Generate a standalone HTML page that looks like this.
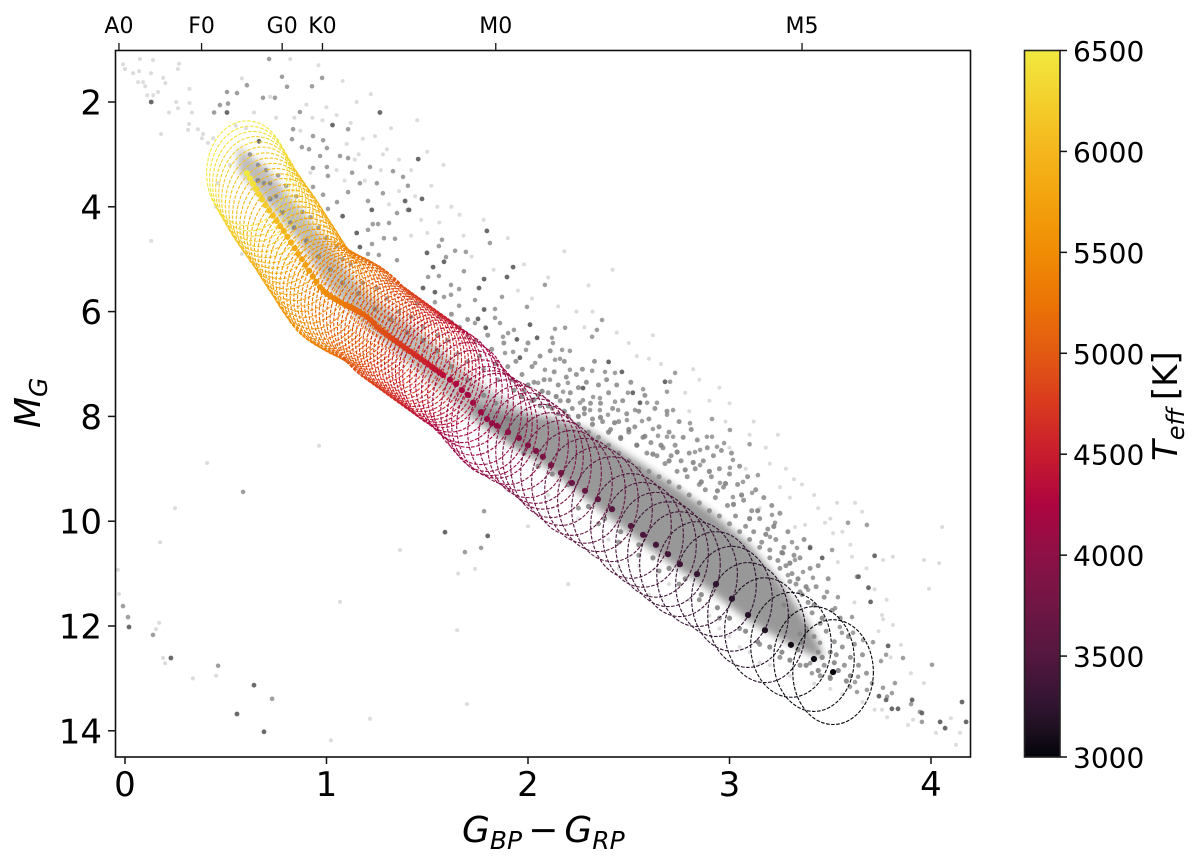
<!DOCTYPE html>
<html>
<head>
<meta charset="utf-8">
<title>Colour-magnitude diagram</title>
<style>
html,body{margin:0;padding:0;background:#fff}
svg{display:block}
text{font-family:"DejaVu Sans",sans-serif;fill:#000}
</style>
</head>
<body>
<svg id="chart" width="1200" height="861" viewBox="0 0 1200 861" xmlns="http://www.w3.org/2000/svg">
<defs>
<filter id="soft" x="-5%" y="-5%" width="110%" height="110%"><feGaussianBlur stdDeviation="4"/></filter>
<linearGradient id="cbar-gradient" x1="0" y1="1" x2="0" y2="0"></linearGradient>
<clipPath id="plot-clip"><rect x="115.5" y="50.5" width="855" height="706.5"/></clipPath>
</defs>
<g clip-path="url(#plot-clip)">
<g id="stars"></g>
<g id="ellipses"></g>
<g id="dots"></g>
</g>
<rect x="115.5" y="50.5" width="855" height="706.5" fill="none" stroke="#111" stroke-width="1.6"/>
<g id="axes"></g>
<g id="cbar"></g>
<text x="462" y="842" font-size="36" font-style="italic">G<tspan font-size="25" dy="7">BP</tspan><tspan dy="-7" font-style="normal" dx="6">−</tspan><tspan dx="6">G</tspan><tspan font-size="25" dy="7">RP</tspan></text>
<text transform="translate(40,428) rotate(-90)" font-size="36" font-style="italic">M<tspan font-size="25" dy="7">G</tspan></text>
<text transform="translate(1177,461) rotate(-90)" font-size="34"><tspan font-style="italic">T</tspan><tspan font-size="24" dy="7" font-style="italic">eff</tspan><tspan dy="-7" dx="8">[K]</tspan></text>
</svg>
<script>
// ---- axis tick values ----
const xTicks = [0, 1, 2, 3, 4];
const yTicks = [2, 4, 6, 8, 10, 12, 14];
const spectralLabels = ["A0", "F0", "G0", "K0", "M0", "M5"];
const spectralColours = [-0.03, 0.38, 0.78, 0.98, 1.84, 3.36];
const teffTicks = [3000, 3500, 4000, 4500, 5000, 5500, 6000, 6500];

// ---- colormap ----
const cmapTeff = [3000, 3125, 3250, 3500, 3750, 4000, 4250, 4500, 4750, 5000, 5250, 5500, 5750, 6000, 6250, 6500];
const cmapHex = ["#03030a", "#1c0f1e", "#2f1430", "#54173f", "#701645", "#8d1046", "#ad0540", "#c81c2e", "#d93a1e", "#e25a12", "#eb7406", "#f08c04", "#f3a20d", "#f4b61c", "#f3cf2c", "#f2e93f"];

// ---- model track: centre colour, centre magnitude, effective temperature ----
const trackColour = [0.605,0.620,0.635,0.650,0.665,0.680,0.698,0.716,0.734,0.752,0.770,0.788,0.806,0.824,0.842,0.860,0.878,0.896,0.914,0.932,0.950,0.968,0.985,1.002,1.020,1.038,1.056,1.074,1.092,1.110,1.128,1.146,1.164,1.182,1.200,1.218,1.236,1.254,1.272,1.290,1.308,1.326,1.344,1.362,1.380,1.398,1.416,1.434,1.452,1.470,1.488,1.506,1.524,1.542,1.560,1.578,1.613,1.643,1.672,1.702,1.727,1.767,1.797,1.821,1.846,1.901,1.955,2.000,2.040,2.074,2.114,2.164,2.218,2.283,2.347,2.417,2.511,2.571,2.635,2.695,2.754,2.839,2.933,3.012,3.092,3.176,3.305,3.419,3.514];
const trackMag = [3.36,3.46,3.56,3.66,3.76,3.86,3.97,4.07,4.17,4.27,4.37,4.46,4.57,4.68,4.79,4.90,5.00,5.11,5.22,5.33,5.43,5.53,5.61,5.66,5.71,5.75,5.79,5.83,5.87,5.90,5.93,5.97,6.01,6.05,6.10,6.16,6.22,6.30,6.36,6.41,6.46,6.51,6.56,6.61,6.66,6.71,6.76,6.81,6.86,6.91,6.96,7.01,7.06,7.11,7.16,7.21,7.30,7.38,7.50,7.59,7.74,7.92,8.05,8.13,8.18,8.30,8.41,8.55,8.66,8.77,8.93,9.08,9.27,9.42,9.58,9.77,10.09,10.26,10.45,10.63,10.82,11.01,11.20,11.48,11.79,12.08,12.36,12.63,12.88];
const trackTeff = [6500,6450,6400,6350,6300,6250,6200,6150,6100,6060,6020,5980,5940,5900,5860,5820,5780,5740,5700,5660,5620,5580,5540,5500,5460,5420,5380,5340,5300,5260,5220,5180,5140,5100,5060,5020,4980,4950,4920,4890,4860,4830,4800,4770,4740,4710,4680,4650,4620,4590,4550,4510,4470,4430,4390,4350,4280,4240,4200,4170,4140,4110,4080,4060,4040,4000,3960,3920,3880,3840,3800,3750,3700,3650,3600,3540,3480,3440,3400,3370,3340,3300,3260,3220,3180,3140,3090,3040,3000];
const ellipseColourHalfWidth = 0.2;
const ellipseMagHalfHeight = 1.0;

// ---- densest parts of the stellar locus: colour, bright edge, faint edge ----
const upperBandColour = [0.56,0.70,0.85,1.00,1.10,1.20,1.50,1.75,2.00];
const upperBandBright = [2.85,3.25,3.95,4.65,5.20,5.65,6.50,7.35,7.95];
const upperBandFaint = [3.30,3.90,4.60,5.50,5.90,6.30,7.30,8.15,8.70];
const lowerBandColour = [1.72,1.90,2.10,2.30,2.60,2.90,3.10,3.25,3.40,3.46];
const lowerBandBright = [7.70,7.95,8.00,8.25,9.00,9.80,10.45,11.15,12.00,12.50];
const lowerBandFaint = [7.90,8.50,9.00,9.62,10.52,11.32,11.92,12.25,12.55,12.62];

// ---- individual stars [colour, magnitude], grouped by darkness ----
const starsDark = [[.13,2.0],[1.265,2.2],[.506,2.2],[1.03,2.44],[.665,2.75],[1.08,4.18],[1.15,4.5],[1.225,4.06],[1.39,3.89],[1.166,4.77],[1.41,4.06],[1.474,3.85],[1.455,3.09],[1.796,4.46],[1.499,4.88],[1.583,5.05],[1.529,5.15],[1.926,5.15],[1.782,5.38],[1.757,5.55],[1.896,5.34],[1.782,5.96],[1.538,5.63],[2.01,6.25],[1.945,6.53],[2.045,6.5],[2.40,6.96],[1.79,6.31],[1.752,6.14],[1.479,5.55],[2.466,7.15],[2.68,7.34],[2.52,7.55],[2.556,7.74],[1.96,6.88],[2.273,7.46],[3.46,10.7],[3.72,10.66],[3.69,11.27],[3.4,10.51],[3.64,11.06],[3.7,11.54],[3.787,12.38],[3.906,13.41],[4.045,13.83],[4.07,13.95],[4.174,13.83],[4.154,13.45],[3.955,13.66],[3.836,13.58],[3.806,13.58],[3.742,13.34],[3.777,13.41],[1.588,10.21],[1.80,10.28],[.02,12.02],[.228,12.61],[.64,13.13],[.556,13.68],[.69,14.02]];

const starsMid = [[.605,1.68],[.506,1.81],[.556,1.83],[.471,2.06],[.442,2.2],[.511,2.03],[.685,1.92],[.744,1.92],[.779,1.52],[.715,1.18],[.804,1.71],[.868,2.19],[.928,1.7],[.978,1.54],[1.107,2.52],[.829,2.71],[.834,2.52],[.878,2.86],[.913,2.9],[.933,2.65],[.983,2.73],[1.002,2.88],[.968,3.03],[1.067,3.03],[1.107,3.07],[1.216,3.24],[1.127,3.35],[1.166,3.55],[1.25,3.55],[1.33,3.32],[1.38,3.43],[1.404,3.6],[1.35,4.12],[1.404,4.06],[1.28,3.74],[1.206,3.89],[1.107,3.72],[1.052,3.91],[1.007,3.41],[.933,3.26],[1.002,3.24],[.983,3.77],[.933,3.62],[1.007,4.04],[1.23,4.33],[1.256,4.33],[1.31,4.31],[1.285,4.6],[1.34,4.61],[1.206,4.44],[1.226,4.71],[1.35,5.02],[1.26,4.92],[1.206,4.9],[1.558,4.75],[1.573,4.63],[1.638,4.84],[1.692,4.86],[1.593,4.96],[1.811,4.69],[1.682,5.23],[1.504,5.34],[1.558,5.32],[1.618,5.49],[1.658,5.57],[1.583,5.72],[1.618,5.68],[1.538,5.82],[1.737,5.78],[1.658,5.89],[1.836,5.95],[1.836,6.12],[1.737,6.22],[1.861,6.22],[1.876,6.48],[1.901,6.41],[1.93,6.35],[1.871,5.72],[1.995,5.91],[2.119,6.5],[2.124,6.6],[2.169,6.73],[2.208,6.75],[2.134,6.33],[2.184,6.31],[2.318,6.48],[2.342,6.35],[2.367,6.16],[2.084,5.49],[1.886,6.79],[1.926,6.77],[1.99,6.73],[2.035,6.98],[2.084,7.11],[2.134,6.92],[2.159,6.9],[2.208,7.11],[2.198,7.36],[2.174,7.53],[2.109,7.3],[2.05,7.36],[2.318,7.13],[2.382,7.15],[2.432,7.17],[2.273,7.69],[2.323,7.63],[2.357,7.65],[2.258,7.74],[2.432,7.72],[2.496,7.55],[2.571,7.48],[2.69,7.53],[2.705,7.34],[2.73,7.17],[2.531,7.88],[2.447,7.88],[2.357,7.88],[2.397,7.97],[2.308,7.88],[2.491,8.07],[2.566,8.09],[2.62,8.24],[2.591,7.74],[2.64,7.74],[2.69,7.97],[2.72,7.88],[2.804,8.13],[2.913,8.05],[3.002,8.26],[2.888,8.39],[2.913,8.39],[2.829,8.68],[2.854,8.64],[2.72,8.39],[2.69,8.39],[2.645,8.37],[2.938,8.58],[2.973,8.51],[3.017,8.83],[3.1,8.53],[2.854,8.93],[3.002,8.98],[3.067,9.25],[3.141,9.12],[3.112,9.46],[3.017,9.54],[2.953,9.27],[3.211,9.88],[3.226,10.03],[3.201,10.3],[3.31,10.4],[3.4,10.49],[3.335,10.51],[3.266,10.61],[3.325,10.74],[3.29,11.03],[3.365,10.97],[3.414,11.08],[3.39,11.31],[3.484,11.35],[3.524,11.66],[3.538,11.45],[3.509,10.55],[3.633,11.06],[3.588,10.03],[3.682,10.07],[3.548,12.02],[3.608,11.83],[3.712,12.31],[3.663,12.27],[3.613,12.13],[3.558,12.13],[3.638,12.97],[3.682,13.22],[3.598,13.16],[3.623,13.07],[3.499,12.97],[3.4,12.71],[3.36,12.32],[3.449,12.32],[3.409,12.9],[3.707,13.09],[3.633,13.26],[3.762,13.18],[3.806,13.28],[3.782,13.35],[3.752,12.67],[3.777,12.55],[3.821,13.09],[3.861,12.61],[3.901,13.49],[3.945,13.64],[3.955,13.83],[4.005,12.74],[.586,9.44],[1.782,9.81],[1.687,10.59],[1.767,10.51],[-.01,11.62],[.015,11.83],[.139,12.17],[.462,12.76],[.73,13.39],[.62,3.0],[.66,3.2],[.7,3.3],[.72,3.55],[.76,3.4],[.8,3.6],[.85,3.8],[.88,4.1],[.92,4.2],[.96,4.4],[1.0,4.6],[1.05,4.75],[1.08,5.0],[.82,4.3],[.75,3.8],[.69,3.55],[1.12,5.1],[1.18,5.45],[1.25,5.55],[1.3,5.75],[1.36,6.0],[1.42,6.1],[1.48,6.3],[1.55,6.45],[1.6,6.55],[1.65,6.8],[1.7,6.95],[1.78,7.1],[1.85,7.3],[1.45,5.85],[1.62,6.2],[1.7,6.45],[1.56,6.1]];

const starsFaint = [[-.01,1.28],[0,1.37],[.04,1.45],[.074,1.18],[.07,1.41],[.139,1.2],[.268,1.27],[.263,1.37],[.129,1.45],[.065,1.62],[.09,1.62],[.1,1.7],[.11,1.87],[.14,1.87],[.164,1.81],[.189,1.54],[.2,1.64],[.32,1.75],[.254,2.0],[.263,2.12],[.32,2.02],[.332,2.2],[.218,2.2],[.318,2.42],[.362,2.52],[.313,2.53],[.387,2.61],[.382,2.69],[.437,2.69],[.412,2.78],[.179,2.61],[.58,1.55],[.64,2.2],[.72,1.9],[.9,2.05],[1.0,2.1],[.96,1.3],[1.08,1.6],[.82,1.18],[1.15,2.0],[1.22,1.85],[1.3,2.9],[1.1,2.8],[.75,2.3],[.84,2.3],[.6,2.5],[.55,2.45],[1.28,3.0],[1.16,3.0],[1.36,3.1],[1.42,3.3],[1.5,2.95],[1.32,2.5],[1.45,2.35],[1.52,3.6],[1.58,3.2],[1.62,4.0],[1.56,4.3],[1.66,4.15],[1.78,4.25],[1.9,4.6],[2.18,4.85],[1.98,5.1],[2.1,5.35],[2.3,5.5],[2.42,5.2],[2.32,6.0],[2.5,6.6],[2.6,6.9],[2.62,6.45],[2.85,7.3],[2.95,7.45],[2.78,7.55],[2.8,7.9],[3.0,7.75],[3.12,8.1],[3.24,8.35],[3.0,8.6],[3.2,8.9],[3.32,9.2],[3.3,9.55],[3.42,9.5],[3.5,9.95],[3.15,9.75],[3.25,9.35],[3.08,9.0],[4.055,10.11],[3.965,10.74],[4.04,10.8],[3.99,11.29],[3.757,11.79],[3.762,11.87],[3.851,12.36],[3.811,11.98],[3.965,13.09],[3.886,13.89],[3.911,13.79],[4.025,14.04],[4.144,14.04],[4.124,14.27],[4.099,13.76],[3.811,10.68],[3.762,10.74],[3.658,9.82],[3.623,9.65],[3.534,9.65],[3.474,10.03],[3.375,10.07],[3.325,10.11],[3.538,10.78],[3.608,10.68],[3.514,10.23],[3.782,13.74],[3.757,13.6],[.407,8.89],[.248,9.75],[.963,8.56],[.174,10.4],[1.365,10.55],[1.737,10.91],[1.653,11.0],[-.035,10.93],[-.03,11.39],[.169,11.94],[.154,12.06],[1.067,11.54],[1.648,12.08],[.189,12.61],[.199,12.71],[.337,13.0],[.452,12.95],[1.022,14.18],[1.216,13.77],[1.697,13.49],[.45,4.0],[.13,4.65],[.52,3.2],[.46,3.55],[.58,4.9],[.65,5.1],[1.9,9.4],[2.0,10.1],[2.2,11.2],[2.6,11.4],[2.45,10.9],
[.93,2.3],[.98,2.35],[1.05,2.25],[1.12,2.4],[1.18,2.7],[1.24,2.65],[.87,2.55],[.92,3.35],[1.05,3.3],[1.09,3.5],[1.14,3.1],[1.19,3.5],[1.27,3.3],[1.31,3.95],[1.36,3.7],[1.44,3.8],[1.47,4.25],[1.42,4.55],[1.5,4.5],[1.55,4.0],[1.68,4.55],[1.72,4.95],[1.83,5.2],[1.95,5.6],[2.02,5.75],[2.15,5.9],[2.24,6.0],[2.28,6.3],[2.44,6.4],[2.54,6.85],[2.66,7.0],[2.82,7.1],[2.9,7.7],[2.98,8.1],[3.1,8.35],[3.18,8.6],[3.28,9.0],[3.36,9.3],[3.44,9.75],[3.56,10.2],[3.6,10.45],[3.68,10.9],[3.72,11.3],[3.78,11.5],[3.62,11.55],[3.74,12.1],[3.8,12.6],[3.9,12.9],[3.56,13.3],[3.66,13.45],[3.72,13.6],[3.5,13.2],[3.42,13.1],[3.3,12.95],[3.2,12.75],[3.1,12.5],[3.0,12.2],[2.9,11.8],[2.8,11.5],[2.7,11.2],[2.55,10.85],[2.4,10.35],[2.25,9.95],[2.1,9.5],[3.05,12.4],[3.15,12.7],[2.95,12.05]];

const starsScatter = [[1.62,6.05],[1.66,6.3],[1.7,6.15],[1.74,6.55],[1.76,6.85],[1.8,6.45],[1.82,6.72],[1.84,7.0],[1.88,6.6],[1.9,7.05],[1.92,7.3],[1.94,6.95],[1.97,7.2],[1.98,7.5],[2.0,6.6],[2.02,7.05],[2.03,7.35],[2.05,7.6],[2.06,6.85],[2.08,7.3],[2.1,7.55],[2.11,6.75],[2.13,7.15],[2.15,7.4],[2.16,7.7],[2.18,6.95],[2.19,7.25],[2.21,7.55],[2.22,7.85],[2.24,7.2],[2.25,7.45],[2.27,7.1],[2.28,7.95],[2.29,7.35],[2.31,7.75],[2.32,8.05],[2.33,6.95],[2.35,7.4],[2.36,7.75],[2.37,8.1],[2.39,7.3],[2.4,7.55],[2.41,8.25],[2.42,7.85],[2.44,7.4],[2.45,8.1],[2.46,8.4],[2.47,7.7],[2.49,7.95],[2.5,8.3],[2.51,7.35],[2.53,8.2],[2.54,8.55],[2.55,7.9],[2.57,8.4],[2.58,7.6],[2.59,8.7],[2.6,8.05],[2.61,8.5],[2.63,7.85],[2.64,8.75],[2.65,8.2],[2.67,8.6],[2.68,8.9],[2.69,7.9],[2.7,8.3],[2.71,8.75],[2.73,8.55],[2.74,9.05],[2.75,8.1],[2.76,8.85],[2.77,8.4],[2.79,9.15],[2.8,8.7],[2.81,8.25],[2.83,9.0],[2.84,8.45],[2.85,9.3],[2.87,8.85],[2.88,9.4],[2.89,8.6],[2.91,9.15],[2.92,8.75],[2.93,9.55],[2.95,9.0],[2.96,8.65],[2.97,9.35],[2.99,9.7],[3.0,9.1],[3.01,8.7],[3.03,9.9],[3.04,9.3],[3.05,8.95],[3.07,9.6],[3.08,10.1],[3.09,9.15],[3.11,9.8],[3.12,10.2],[3.13,9.4],[3.15,9.95],[3.16,10.4],[3.17,9.55],[3.19,10.15],[3.2,10.55],[3.21,9.7],[3.23,10.35],[3.24,10.75],[3.25,9.85],[3.27,10.5],[3.28,10.85],[3.29,10.2],[3.31,11.0],[3.32,10.65],[3.33,11.2],[3.35,10.7],[3.36,11.4],[3.37,10.35],[3.39,11.55],[3.4,10.9],[3.41,11.75],[3.43,11.25],[3.44,10.85],[3.45,11.95],[3.47,11.45],[3.48,12.1],[3.49,11.1],[3.51,11.7],[3.52,12.3],[3.53,12.55],[3.55,11.85],[3.56,12.4],[3.57,12.75],[3.59,12.2],[3.6,12.6],[3.62,12.35],[3.64,12.75],[3.66,12.55],[3.68,12.9],[3.44,12.5],[3.47,12.75],[3.5,12.5],[3.42,12.2],[3.38,12.05],[3.3,11.8],[3.35,12.15],[3.27,11.6],[2.02,7.7],[2.06,7.8],[2.12,7.85],[2.15,7.95],[2.2,8.0],[2.25,8.15],[2.3,8.3],[2.35,8.4],[2.4,8.55],[2.45,8.7],[2.5,8.85],[2.55,9.0],[2.6,9.05],[2.65,9.15],[2.7,9.25],[2.75,9.35],[2.8,9.5],[2.85,9.65],[2.9,9.8],[2.95,9.9],[3.0,10.05],[3.05,10.2],[3.1,10.35],[3.15,10.5],[3.2,10.7],[3.25,10.9],[3.3,11.15],[3.35,11.35],[2.25,9.75],[2.35,10.05],[2.45,10.4],[2.55,10.65],[2.65,10.95],[2.75,11.2],[2.85,11.5],[2.95,11.85],[3.05,12.05],[3.15,12.35],[3.25,12.6],[3.35,12.75],[3.45,12.95]];

const starsDense = [[1.93,7.5],[1.97,7.62],[2.0,7.4],[2.03,7.68],[2.07,7.52],[2.1,7.8],[2.14,7.62],[2.18,7.9],[2.2,7.7],[2.25,8.0],[2.28,7.85],[2.32,8.15],[2.36,8.02],[2.4,8.3],[2.43,8.12],[2.46,8.42],[2.5,8.25],[2.54,8.55],[2.58,8.38],[2.62,8.72],[2.66,8.55],[2.7,8.85],[2.74,8.68],[2.78,9.02],[2.82,8.88],[2.86,9.25],[2.9,9.05],[2.94,9.42],[2.98,9.28],[3.02,9.68],[3.06,9.5],[3.1,9.95],[3.14,9.8],[3.18,10.25],[3.22,10.1],[3.26,10.6],[3.3,10.8],[3.34,11.1],[3.38,11.25],[3.42,11.6],[3.46,11.85],[1.98,8.7],[2.05,8.95],[2.12,9.1],[2.2,9.3],[2.3,9.72],[2.38,9.95],[2.46,10.2],[2.55,10.45],[2.62,10.7],[2.7,10.9],[2.78,11.1],[2.86,11.4],[2.94,11.65],[3.0,11.85],[3.08,12.1],[3.14,12.3],[3.2,12.4],[3.26,12.5],[3.3,12.65],[3.34,12.45],[3.38,12.75],[3.44,12.85],[3.5,13.0],[3.54,12.85],[3.58,13.05],[3.46,12.6],[3.52,12.7],[3.6,12.95],[1.9,8.05],[1.84,7.75],[1.78,7.6],[1.7,7.3],[1.62,7.05],[1.55,6.75],[1.48,6.55],[1.4,6.4],[1.32,6.15],[1.24,5.95],[1.16,5.65],[1.08,5.45],[1.02,5.2],[.96,4.95],[.9,4.65],[.84,4.4],[.78,4.1],[.72,3.85],[.66,3.5]];

// ---- axis functions ----
const xScale = c => 125 + c * 201.5;
const yScale = m => 102 + (m - 2) * 52.4;
const teffScale = t => 757 - (t - 3000) * 706.5 / 3500;

const NS = "http://www.w3.org/2000/svg";
function make(tag, attrs, parent) {
  const el = document.createElementNS(NS, tag);
  for (const k in attrs) el.setAttribute(k, attrs[k]);
  parent.appendChild(el);
  return el;
}
function hexToRgb(h) { return [1, 3, 5].map(i => parseInt(h.substr(i, 2), 16)); }
function teffColour(t) {
  let i = 0;
  while (i < cmapTeff.length - 2 && t > cmapTeff[i + 1]) i++;
  const f = Math.max(0, Math.min(1, (t - cmapTeff[i]) / (cmapTeff[i + 1] - cmapTeff[i])));
  const a = hexToRgb(cmapHex[i]), b = hexToRgb(cmapHex[i + 1]);
  return "rgb(" + a.map((v, k) => Math.round(v + (b[k] - v) * f)).join(",") + ")";
}

const starsLayer = document.getElementById("stars");
const ellipseLayer = document.getElementById("ellipses");
const dotLayer = document.getElementById("dots");
const axes = document.getElementById("axes");
const cbar = document.getElementById("cbar");

// axis ticks + labels
xTicks.forEach(v => {
  const x = xScale(v);
  const tk = make("line", { x1: x, x2: x, y1: 757, y2: 764, stroke: "#111", "stroke-width": 1.5 }, axes);
  
  
  const lb = make("text", { x: x, y: 796, "font-size": 34, "text-anchor": "middle" }, axes);
  lb.textContent = v;
  
  
});
yTicks.forEach(v => {
  const y = yScale(v);
  const tk = make("line", { x1: 115, x2: 108, y1: y, y2: y, stroke: "#111", "stroke-width": 1.5 }, axes);
  
  
  const lb = make("text", { x: 102, y: y + 12.5, "font-size": 34, "text-anchor": "end" }, axes);
  lb.textContent = v;
  
  
});
spectralColours.forEach((v, i) => {
  const x = xScale(v);
  const tk = make("line", { x1: x, x2: x, y1: 50, y2: 43, stroke: "#111", "stroke-width": 1.3 }, axes);
  
  
  const lb = make("text", { x: x, y: 33, "font-size": 22, "text-anchor": "middle" }, axes);
  lb.textContent = spectralLabels[i];
  
  
});

// colorbar
const grad = document.getElementById("cbar-gradient");
cmapTeff.forEach((t, i) => {
  make("stop", { offset: ((t - 3000) / 3500 * 100).toFixed(2) + "%", "stop-color": cmapHex[i] }, grad);
});
const cbRect = make("rect", { x: 1024.5, y: 50.5, width: 35.5, height: 706.5, fill: "url(#cbar-gradient)", stroke: "#222", "stroke-width": 1.6 }, cbar);


teffTicks.forEach(v => {
  const y = teffScale(v);
  const tk = make("line", { x1: 1060, x2: 1067, y1: y, y2: y, stroke: "#111", "stroke-width": 1.5 }, cbar);
  
  
  const lb = make("text", { x: 1073, y: y + 10.5, "font-size": 28 }, cbar);
  lb.textContent = v;
  
  
});

// dashed track ellipses
trackColour.forEach((c, i) => {
  const e = make("ellipse", {
    cx: xScale(c).toFixed(2), cy: yScale(trackMag[i]).toFixed(2),
    rx: (ellipseColourHalfWidth * 201.5).toFixed(2), ry: (ellipseMagHalfHeight * 52.4).toFixed(2),
    fill: "none", stroke: teffColour(trackTeff[i]), "stroke-width": 1.1, "stroke-dasharray": "3.6 1.5"
  }, ellipseLayer);
  
  
});
// track centre dots
trackColour.forEach((c, i) => {
  const t = make("circle", { cx: xScale(c).toFixed(2), cy: yScale(trackMag[i]).toFixed(2), r: 3.1, fill: teffColour(trackTeff[i]) }, dotLayer);
  
  
});

// dense locus underlays
function bandPath(cs, bright, faint) {
  let d = "";
  cs.forEach((c, i) => { d += (i ? "L" : "M") + xScale(c).toFixed(1) + " " + yScale(bright[i]).toFixed(1); });
  for (let i = cs.length - 1; i >= 0; i--) { d += "L" + xScale(cs[i]).toFixed(1) + " " + yScale(faint[i]).toFixed(1); }
  return d + "Z";
}
const upperBandEl = make("path", { d: bandPath(upperBandColour, upperBandBright, upperBandFaint), fill: "#868686", opacity: 0.55, filter: "url(#soft)" }, starsLayer);


const lowerBandEl = make("path", { d: bandPath(lowerBandColour, lowerBandBright, lowerBandFaint), fill: "#828282", opacity: 0.82, filter: "url(#soft)" }, starsLayer);



// star scatter: one path per darkness group, each star a round-capped zero-length stroke
function drawStars(list, r, colour, alpha, name) {
  let d = "";
  list.forEach(p => { d += "M" + xScale(p[0]).toFixed(1) + " " + yScale(p[1]).toFixed(1) + "h0"; });
  const s = make("path", { d: d, fill: "none", stroke: colour, "stroke-opacity": alpha, "stroke-width": 2 * r, "stroke-linecap": "round" }, starsLayer);
  
  
}
drawStars(starsFaint, 2.0, "#808080", 0.28, "faint-stars");
drawStars(starsMid, 2.3, "#7a7a7a", 0.72, "mid-stars");
drawStars(starsScatter, 2.5, "#828282", 0.82, "scatter-stars");
drawStars(starsDense, 2.6, "#808080", 0.88, "dense-stars");
drawStars(starsDark, 2.4, "#626262", 0.95, "dark-stars");
</script>
</body>
</html>
